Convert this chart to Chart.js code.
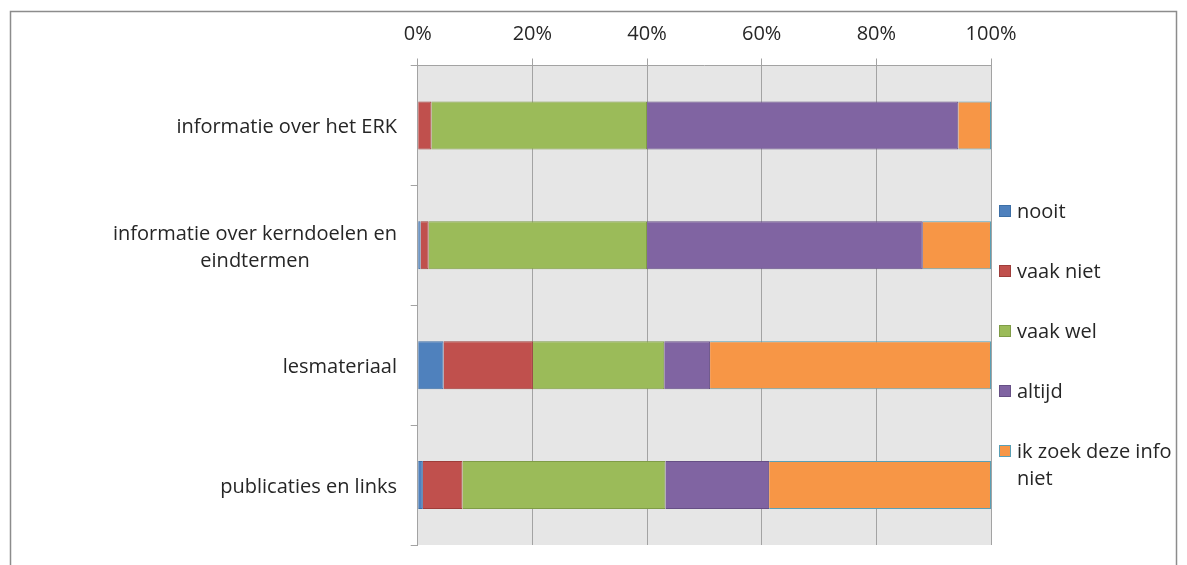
<!DOCTYPE html>
<html><head><meta charset="utf-8">
<script src="https://cdn.jsdelivr.net/npm/chart.js@4"></script>
<style>html,body{margin:0;padding:0;background:#fff;}#wrap{width:1187px;height:565px;position:relative;}</style>
</head><body><div id="wrap"><canvas id="c" width="1187" height="565"></canvas></div>
<script>
const categories = [
  ["informatie over het ERK"],
  ["informatie over kerndoelen en", "eindtermen"],
  ["lesmateriaal"],
  ["publicaties en links"]
];
const seriesNames = ["nooit", "vaak niet", "vaak wel", "altijd", "ik zoek deze info niet"];
const nooit      = [0.0, 0.5, 4.5, 0.9];
const vaakNiet   = [2.4, 1.4, 15.6, 6.9];
const vaakWel    = [37.6, 38.1, 22.9, 35.4];
const altijd     = [54.3, 48.1, 8.0, 18.1];
const ikZoekNiet = [5.7, 11.9, 49.0, 38.7];
const xTicks = [0, 20, 40, 60, 80, 100];

const fills   = ["#4F81BD", "#C0504D", "#9BBB59", "#8064A2", "#F79646"];
const borders = ["#3D6FA6", "#9E3D3A", "#7F9C47", "#664F85", "#5A9FB5"];
const values = [nooit, vaakNiet, vaakWel, altijd, ikZoekNiet];
const FONT = "'Open Sans', Lato, sans-serif";
const FS = 20;
const TXT = "#262626";

const bgPlugin = {
  id: 'bg',
  beforeDraw(chart) {
    const {ctx, chartArea: a} = chart;
    ctx.save();
    ctx.fillStyle = '#e6e6e6';
    ctx.fillRect(a.left, a.top, a.right - a.left, a.bottom - a.top);
    ctx.restore();
  },
  afterDraw(chart) {
    const ctx = chart.ctx;
    ctx.save();
    ctx.strokeStyle = '#8c8c8c';
    ctx.lineWidth = 1.5;
    ctx.strokeRect(10.5, 11.5, 1166, 600);
    const y = chart.scales.y;
    ctx.font = FS + "px " + FONT;
    ctx.fillStyle = TXT;
    ctx.textAlign = 'center';
    ctx.textBaseline = 'middle';
    const rightEdge = 397;
    const lh = 27;
    categories.forEach((lines, i) => {
      const cy = y.getPixelForValue(i);
      const w = Math.max(...lines.map(l => ctx.measureText(l).width));
      const cx = rightEdge - w / 2;
      const y0 = cy - (lines.length - 1) * lh / 2 + 2;
      lines.forEach((l, j) => ctx.fillText(l, cx, y0 + j * lh));
    });
    ctx.textAlign = 'left';
    const maxW = 165;
    chart.data.datasets.forEach((ds, i) => {
      const ly = 211 + i * 60;
      ctx.fillStyle = ds.backgroundColor;
      ctx.fillRect(999, ly - 6, 12, 12);
      ctx.strokeStyle = ds.borderColor;
      ctx.lineWidth = 1;
      ctx.strokeRect(999.5, ly - 5.5, 11, 11);
      ctx.fillStyle = TXT;
      const words = ds.label.split(' ');
      const lines = [];
      let cur = '';
      words.forEach(wd => {
        const t = cur ? cur + ' ' + wd : wd;
        if (ctx.measureText(t).width > maxW && cur) { lines.push(cur); cur = wd; } else cur = t;
      });
      lines.push(cur);
      lines.forEach((l, j) => ctx.fillText(l, 1017, ly + 1 + j * 27));
    });
    ctx.restore();
  }
};

new Chart(document.getElementById('c'), {
  type: 'bar',
  data: {
    labels: categories.map(c => c.join(' ')),
    datasets: seriesNames.map((n, i) => ({
      label: n,
      data: values[i],
      backgroundColor: fills[i],
      borderColor: borders[i],
      borderWidth: 1,
      barPercentage: 0.4,
      categoryPercentage: 1.0
    }))
  },
  options: {
    indexAxis: 'y',
    responsive: false,
    animation: false,
    devicePixelRatio: 1,
    layout: {padding: {left: 0, top: 0, right: 196, bottom: 20}},
    plugins: {legend: {display: false}, tooltip: {enabled: false}},
    scales: {
      x: {
        position: 'top',
        stacked: true,
        min: 0, max: 100,
        afterBuildTicks(s) { s.ticks = xTicks.map(v => ({value: v})); },
        afterFit(s) { s.height = 65.5; },
        ticks: {callback: v => v + '%', font: {size: FS, family: FONT}, color: TXT, padding: 12, maxRotation: 0},
        grid: {color: '#a3a3a3', lineWidth: 1, tickLength: 7},
        border: {display: true, color: '#a3a3a3'}
      },
      y: {
        stacked: true,
        afterFit(s) { s.width = 417.7; },
        ticks: {display: false},
        grid: {display: true, drawOnChartArea: false, color: '#a3a3a3', tickLength: 7, offset: true},
        border: {display: true, color: '#a3a3a3'}
      }
    }
  },
  plugins: [bgPlugin]
});
</script></body></html>
